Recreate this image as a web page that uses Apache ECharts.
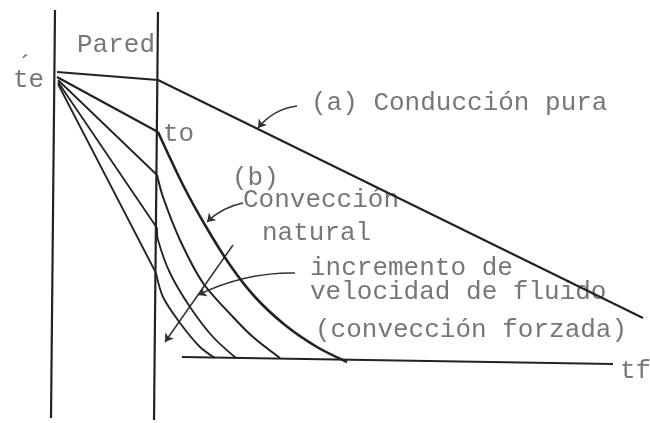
<!DOCTYPE html>
<html>
<head>
<meta charset="utf-8">
<script src="https://cdn.jsdelivr.net/npm/echarts@6/dist/echarts.min.js"></script>
<style>
  html, body { margin: 0; padding: 0; background: #fff; }
  #chart { width: 650px; height: 423px; }
</style>
</head>
<body>
<div id="chart"></div>
<script>
// perfil de temperatura a traves de una pared (x: posicion, y: temperatura hacia abajo)
var wallLeft = [[55, 10], [51, 418]];
var wallRight = [[158, 12], [154, 420]];
var fluidLine = [[182, 357], [613, 364]];

// (a) conduccion pura
var conduction = [[57, 72], [158, 80], [643, 318]];

// (b) conveccion natural y curvas de conveccion forzada
var insideB = [[57, 77], [158, 132]];
var curveB = [[158, 132], [183, 185], [205, 225], [230, 265], [255, 297], [285, 325], [317, 347], [347, 362]];
var inside2 = [[58, 80], [157, 175]];
var curve2 = [[157, 175], [163, 197], [180, 240], [203, 283], [233, 317], [253, 337], [280, 358]];
var inside3 = [[58, 82], [157, 228]];
var curve3 = [[157, 228], [158, 240], [170, 273], [190, 307], [213, 337], [236, 358]];
var inside4 = [[58, 84], [156, 273]];
var curve4 = [[156, 273], [163, 297], [180, 323], [200, 347], [215, 358]];

// flechas de las anotaciones
var leaderA = [[297, 106], [258, 128]];
var leaderB = [[243, 203], [207, 222]];
var leaderInc = [[295, 273], [198, 295]];
var arrowInc = [[233, 245], [165, 342]];

var textFont = "26px 'Liberation Mono', 'DejaVu Sans Mono', monospace";
var textColor = '#777';

function seg(data, w, smooth) {
    return {
        type: 'line',
        data: data,
        symbol: 'none',
        smooth: smooth || false,
        lineStyle: { color: '#222', width: w },
        silent: true
    };
}

function label(txt, x, y) {
    return {
        type: 'text',
        x: x,
        y: y,
        style: { text: txt, font: textFont, fill: textColor, verticalAlign: 'middle' }
    };
}

var myChart = echarts.init(document.getElementById('chart'));
var option = {
    animation: false,
    backgroundColor: '#fff',
    grid: { left: 0, right: 0, top: 0, bottom: 0 },
    xAxis: { type: 'value', min: 0, max: 650, show: false },
    yAxis: { type: 'value', min: 0, max: 423, inverse: true, show: false },
    series: [
        seg(wallLeft, 2.2),
        seg(wallRight, 2.2),
        seg(fluidLine, 1.8),
        seg(conduction, 2.2),
        seg(insideB, 2.2),
        seg(curveB, 2.6, 0.3),
        seg(inside2, 1.8),
        seg(curve2, 2, 0.3),
        seg(inside3, 1.8),
        seg(curve3, 1.8, 0.3),
        seg(inside4, 1.8),
        seg(curve4, 1.8, 0.3),
        {
            type: 'lines',
            coordinateSystem: 'cartesian2d',
            symbol: ['none', 'arrow'],
            symbolSize: 8,
            silent: true,
            lineStyle: { color: '#333', width: 1.5, opacity: 1 },
            data: [
                { coords: leaderA, lineStyle: { curveness: -0.2 } },
                { coords: leaderB, lineStyle: { curveness: -0.15 } },
                { coords: leaderInc, lineStyle: { curveness: -0.12 } },
                { coords: arrowInc, lineStyle: { curveness: 0 } }
            ]
        }
    ],
    graphic: [
        label('Pared', 77, 45),
        label('te', 13, 80),
        label('\u00b4', 17, 66),
        label('to', 163, 134),
        label('(a) Conducción pura', 311, 103),
        label('(b)', 232, 178),
        label('Convección', 243, 200),
        label('natural', 262, 233),
        label('incremento de', 310, 268),
        label('velocidad de fluido', 310, 292),
        label('(convección forzada)', 315, 330),
        label('tf', 620, 371)
    ]
};

if (option && typeof option === "object") {
    myChart.setOption(option, true);
}
</script>
</body>
</html>
